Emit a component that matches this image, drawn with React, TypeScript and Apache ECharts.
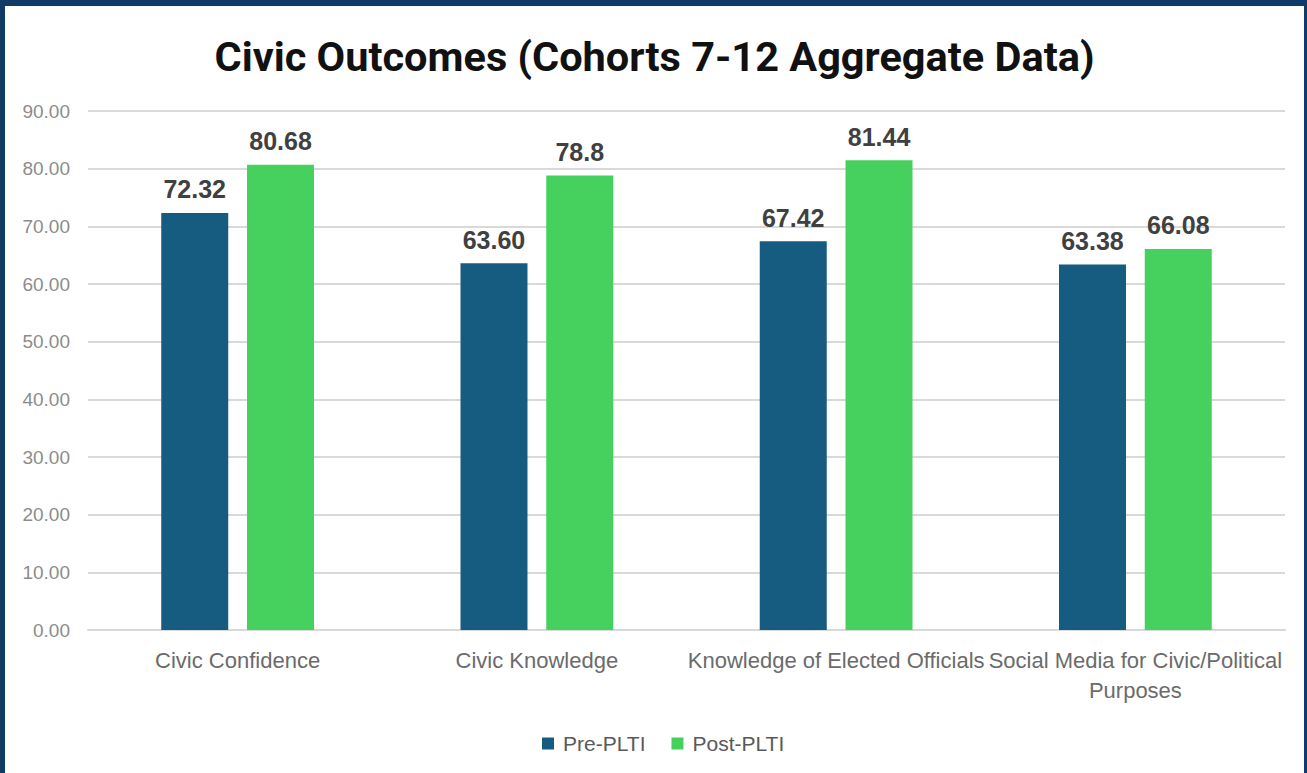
import React, { useEffect, useRef } from "react";
import * as echarts from "echarts";

const categories = [
  "Civic Confidence",
  "Civic Knowledge",
  "Knowledge of Elected Officials",
  "Social Media for Civic/Political\nPurposes",
];
const preValues = [72.32, 63.6, 67.42, 63.38];
const postValues = [80.68, 78.8, 81.44, 66.08];
const preLabels = ["72.32", "63.60", "67.42", "63.38"];
const postLabels = ["80.68", "78.8", "81.44", "66.08"];
const seriesNames = ["Pre-PLTI", "Post-PLTI"];
const titleText = "Civic Outcomes (Cohorts 7-12 Aggregate Data)";

export default function App() {
  const ref = useRef<HTMLDivElement>(null);
  useEffect(() => {
    if (!ref.current) return;
    const chart = echarts.init(ref.current, undefined, { renderer: "svg" });
    const labelStyle = {
      show: true,
      position: "top" as const,
      distance: 11,
      fontSize: 25,
      fontWeight: "bold" as const,
      color: "#404040",
      fontFamily: "Liberation Sans",
    };
    chart.setOption({
      animation: false,
      backgroundColor: "#ffffff",
      title: {
        text: titleText,
        left: "center",
        top: 24,
        textStyle: {
          fontSize: 41.5,
          fontWeight: "bold",
          color: "#111111",
          fontFamily: "Roboto",
        },
      },
      legend: {
        data: seriesNames,
        bottom: 14,
        left: 532,
        itemWidth: 12,
        itemHeight: 12,
        itemGap: 26,
        icon: "rect",
        textStyle: { fontSize: 21, color: "#595959", fontFamily: "Liberation Sans", padding: [0, 0, 0, 4] },
      },
      grid: { left: 83, right: 19, top: 105, bottom: 143, containLabel: false },
      xAxis: {
        type: "category",
        data: categories,
        axisLine: { show: true, lineStyle: { color: "#d9d9d9", width: 2 } },
        axisTick: { show: false },
        axisLabel: {
          interval: 0,
          margin: 15,
          fontSize: 22,
          lineHeight: 30,
          color: "#6b6b6b",
          fontFamily: "Liberation Sans",
        },
      },
      yAxis: {
        type: "value",
        min: 0,
        max: 90,
        interval: 10,
        axisLine: { show: false },
        axisTick: { show: false },
        splitLine: { lineStyle: { color: "#d9d9d9", width: 2 } },
        axisLabel: {
          formatter: (v: number) => v.toFixed(2),
          fontSize: 19,
          color: "#8c8c8c",
          margin: 18,
          fontFamily: "Liberation Sans",
        },
      },
      series: [
        {
          name: seriesNames[0],
          type: "bar",
          data: preValues,
          barWidth: 67,
          barGap: "28%",
          itemStyle: { color: "#165b80" },
          label: { ...labelStyle, formatter: (p: any) => preLabels[p.dataIndex] },
        },
        {
          name: seriesNames[1],
          type: "bar",
          data: postValues,
          barWidth: 67,
          itemStyle: { color: "#46d15e" },
          label: { ...labelStyle, formatter: (p: any) => postLabels[p.dataIndex] },
        },
      ],
    });
    return () => chart.dispose();
  }, []);
  return (
    <div
      style={{
        position: "fixed",
        left: 0,
        top: 0,
        width: 1307,
        height: 773,
        background: "#0f3b66",
      }}
    >
      <div
        ref={ref}
        style={{ position: "absolute", left: 5, top: 6, width: 1299, height: 767, background: "#ffffff" }}
      />
    </div>
  );
}
